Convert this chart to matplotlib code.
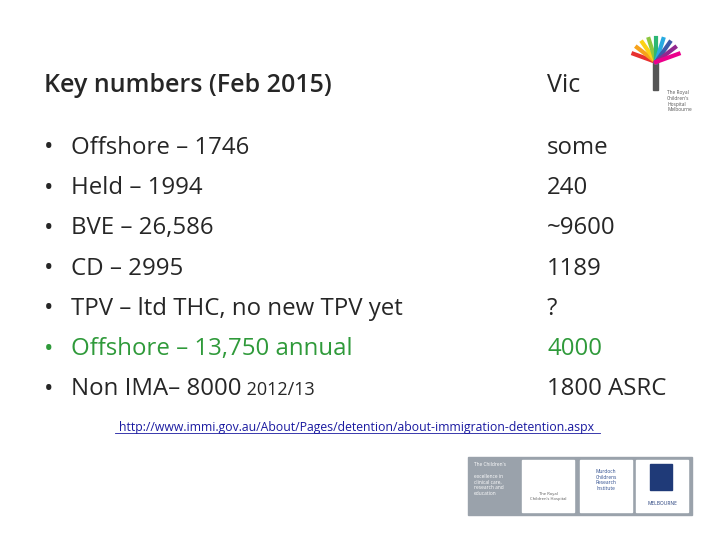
import matplotlib
matplotlib.use("Agg")
import matplotlib.pyplot as plt
from matplotlib.patches import Rectangle
import matplotlib.transforms as mtrans
import numpy as np

title_left = "Key numbers (Feb 2015)"
title_right = "Vic"
items = ["Offshore – 1746", "Held – 1994", "BVE – 26,586", "CD – 2995",
         "TPV – ltd THC, no new TPV yet", "Offshore – 13,750 annual", "Non IMA– 8000"]
item_suffix = ["", "", "", "", "", "", " 2012/13"]
vic_values = ["some", "240", "~9600", "1189", "?", "4000", "1800 ASRC"]
green_rows = [5]
link = "http://www.immi.gov.au/About/Pages/detention/about-immigration-detention.aspx"

plt.rcParams['font.family'] = ['Open Sans', 'DejaVu Sans']
fig = plt.figure(figsize=(7.2, 5.4), dpi=100)
ax = fig.add_axes([0, 0, 1, 1])
ax.set_xlim(0, 720); ax.set_ylim(540, 0); ax.axis('off')
fig.patch.set_facecolor('white')

dark = '#262626'; green = '#2f9a3a'
ax.text(44, 86, title_left, fontsize=18, fontweight='semibold', color=dark, va='center')
ax.text(547, 86, title_right, fontsize=18, color=dark, va='center')
fig.canvas.draw()
for i, (t, s, v) in enumerate(zip(items, item_suffix, vic_values)):
    y = 148 + i * 40.2
    c = green if i in green_rows else dark
    ax.text(44, y, "•", fontsize=18, color=c, va='center')
    tx = ax.text(71, y, t, fontsize=17.3, color=c, va='center')
    if s:
        bb = tx.get_window_extent(renderer=fig.canvas.get_renderer())
        ax.text(bb.x1, y + 1, s, fontsize=13, color=c, va='center',
                transform=mtrans.blended_transform_factory(mtrans.IdentityTransform(), ax.transData))
    ax.text(547, y, v, fontsize=17.3, color=c, va='center')

ax.text(357, 427, link, fontsize=8.8, color='#1a1aa0', ha='center', va='center')
ax.plot([115, 600], [433, 433], color='#1a1aa0', lw=0.6)

# top-right logo
cols = ['#e8312f', '#f7a21b', '#fcd116', '#8dc63f', '#2bb673', '#27aae1', '#3c5aa8', '#92278f', '#ec008c']
for k, ang in enumerate(np.linspace(200, 340, 9)):
    a = np.deg2rad(ang)
    ax.plot([656, 656 + 24*np.cos(a)], [62, 62 + 24*np.sin(a)], color=cols[k], lw=3)
ax.add_patch(Rectangle((653, 60), 5, 30, color='#555555'))
ax.text(667, 90, "The Royal\nChildren's\nHospital\nMelbourne", fontsize=3.5, color='#555555', va='top')

# bottom logo band
ax.add_patch(Rectangle((468, 457), 224, 58, color='#9aa2ab'))
ax.text(474, 462, "The Children's\n\nexcellence in\nclinical care,\nresearch and\neducation", fontsize=3.5, color='white', va='top')
for x0 in [522, 580, 636]:
    ax.add_patch(Rectangle((x0, 460), 52, 52, color='white'))
ax.text(548, 500, "The Royal\nChildren's Hospital", fontsize=3, ha='center', color='#555')
ax.text(606, 480, "Murdoch\nChildrens\nResearch\nInstitute", fontsize=3.5, ha='center', va='center', color='#2b4a8c')
ax.add_patch(Rectangle((650, 464), 22, 26, color='#1f3a78'))
ax.text(662, 505, "MELBOURNE", fontsize=3.5, ha='center', color='#1f3a78')

fig.savefig('out.png', dpi=100)
